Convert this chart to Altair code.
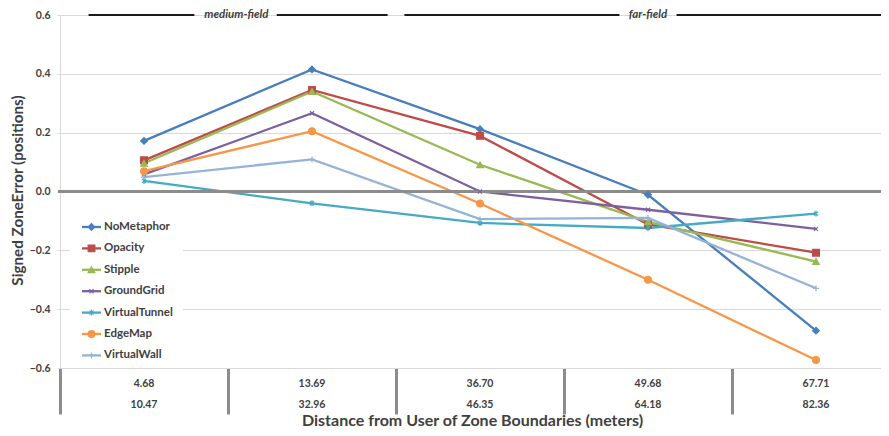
import altair as alt
import pandas as pd

# ---- data ----
near_bounds = ["4.68", "13.69", "36.70", "49.68", "67.71"]
far_bounds = ["10.47", "32.96", "46.35", "64.18", "82.36"]
series_names = ["NoMetaphor", "Opacity", "Stipple", "GroundGrid",
                "VirtualTunnel", "EdgeMap", "VirtualWall"]
no_metaphor = [0.172, 0.415, 0.212, -0.011, -0.473]
opacity = [0.106, 0.345, 0.189, -0.112, -0.208]
stipple = [0.096, 0.340, 0.091, -0.103, -0.238]
ground_grid = [0.058, 0.266, 0.000, -0.062, -0.127]
virtual_tunnel = [0.036, -0.040, -0.107, -0.124, -0.075]
edge_map = [0.069, 0.205, -0.041, -0.300, -0.573]
virtual_wall = [0.049, 0.109, -0.094, -0.090, -0.329]

# field annotations (segments in category-band units)
field_labels = ["medium-field", "far-field"]
field_label_pos = [1.05, 3.5]
seg_start = [0.17, 1.29, 2.05, 3.67]
seg_end = [0.80, 1.95, 3.33, 4.89]

colors = ["#4A7EBB", "#BE4B48", "#98B954", "#7D60A0", "#46AAC5", "#F79646", "#95B3D7"]
shapes = ["diamond", "square", "triangle-up",
          "M-0.6,-0.6L0.6,0.6M-0.6,0.6L0.6,-0.6",
          "M-0.6,-0.6L0.6,0.6M-0.6,0.6L0.6,-0.6M0,-0.9L0,0.9",
          "circle",
          "M-0.9,0L0.9,0M0,-0.9L0,0.9"]
sizes = [45, 45, 45, 35, 35, 50, 35]

FONT = "Lato"
GRAY_TXT = "#404040"

all_vals = [no_metaphor, opacity, stipple, ground_grid, virtual_tunnel, edge_map, virtual_wall]
rows = []
for si, (name, vals) in enumerate(zip(series_names, all_vals)):
    for ci, v in enumerate(vals):
        rows.append({"series": name, "order": si, "pos": ci + 0.5, "value": v})
df = pd.DataFrame(rows)

cat_df = pd.DataFrame({"pos": [i + 0.5 for i in range(5)], "near": near_bounds, "far": far_bounds})

PLOT_W, PLOT_H = 821, 353
BAND = 168
xdom = [0, PLOT_W / BAND]

xscale = alt.Scale(domain=xdom, nice=False, zero=False)
yscale = alt.Scale(domain=[-0.6, 0.6], nice=False)
cscale = alt.Scale(domain=series_names, range=colors)
shscale = alt.Scale(domain=series_names, range=shapes)
szscale = alt.Scale(domain=series_names, range=sizes)

x_enc = alt.X("pos:Q", scale=xscale,
              axis=alt.Axis(values=[0, 1, 2, 3, 4], labels=False, grid=False,
                            tickSize=46, tickWidth=3, tickColor="#8c8c8c",
                            domainColor="#d9d9d9", domainWidth=1,
                            title="Distance from User of Zone Boundaries (meters)",
                            titleFont=FONT, titleFontSize=16, titleFontWeight="bold",
                            titleColor=GRAY_TXT, titleX=412, titleY=57,
                            titleBaseline="alphabetic", titleAlign="center"))
y_enc = alt.Y("value:Q", scale=yscale,
              axis=alt.Axis(values=[-0.6, -0.4, -0.2, 0.0, 0.2, 0.4, 0.6], format=".1f",
                            grid=True, gridColor="#d9d9d9", gridWidth=1,
                            domainColor="#d9d9d9", tickColor="#d9d9d9", tickSize=3,
                            labelFont=FONT, labelFontSize=10.5, labelFontWeight="bold",
                            labelColor=GRAY_TXT, labelPadding=7,
                            title="Signed ZoneError (positions)",
                            titleFont=FONT, titleFontSize=15.2, titleFontWeight="bold",
                            titleColor=GRAY_TXT, titleAngle=270, titleX=-43, titleY=175,
                            titleBaseline="middle", titleAlign="center"))

base = alt.Chart(df)

# white box behind legend (hides gridlines)
legend_box = alt.Chart(pd.DataFrame({"a": [0]})).mark_rect(color="white").encode(
    x=alt.value(10), x2=alt.value(123), y=alt.value(200), y2=alt.value(351))

zero_line = alt.Chart(pd.DataFrame({"v": [0.0]})).mark_rule(color="#8c8c8c", strokeWidth=3).encode(
    y=alt.Y("v:Q", scale=yscale), x=alt.value(-2), x2=alt.value(PLOT_W))

lines = base.mark_line(strokeWidth=2.3).encode(
    x=x_enc, y=y_enc,
    color=alt.Color("series:N", scale=cscale, legend=None),
    detail="series:N",
    order=alt.Order("pos:Q"))

points = base.mark_point(filled=True, opacity=1, strokeWidth=1.2).encode(
    x=alt.X("pos:Q", scale=xscale),
    y=alt.Y("value:Q", scale=yscale),
    fill=alt.Fill("series:N", scale=cscale, legend=None),
    stroke=alt.Stroke("series:N", scale=cscale, legend=None),
    shape=alt.Shape("series:N", scale=shscale, legend=None),
    size=alt.Size("series:N", scale=szscale, legend=None))

# category labels below the plot
near_text = alt.Chart(cat_df).mark_text(font=FONT, fontSize=10.5, fontWeight="bold",
                                        color=GRAY_TXT, baseline="middle").encode(
    x=alt.X("pos:Q", scale=xscale), y=alt.value(369), text="near:N")
far_text = alt.Chart(cat_df).mark_text(font=FONT, fontSize=10.5, fontWeight="bold",
                                       color=GRAY_TXT, baseline="middle").encode(
    x=alt.X("pos:Q", scale=xscale), y=alt.value(390), text="far:N")

# field annotations
seg_df = pd.DataFrame({"s": seg_start, "e": seg_end, "v": [0.6] * len(seg_start)})
segs = alt.Chart(seg_df).mark_rule(color="#1a1a1a", strokeWidth=2).encode(
    x=alt.X("s:Q", scale=xscale), x2="e:Q", y=alt.Y("v:Q", scale=yscale))
field_df = pd.DataFrame({"label": field_labels, "pos": field_label_pos, "v": [0.6, 0.6]})
field_text = alt.Chart(field_df).mark_text(font=FONT, fontSize=11.5, fontWeight="bold",
                                           fontStyle="italic", color=GRAY_TXT,
                                           baseline="middle").encode(
    x=alt.X("pos:Q", scale=xscale), y=alt.Y("v:Q", scale=yscale), text="label:N")

# manual legend (line + marker + label)
leg_df = pd.DataFrame({
    "series": series_names,
    "ly": [212 + 21.4 * i for i in range(len(series_names))],
    "lx0": [22] * 7, "lx1": [41] * 7, "lxm": [31.5] * 7, "lxt": [44] * 7,
})
leg_lines = alt.Chart(leg_df).mark_rule(strokeWidth=2.3).encode(
    x=alt.X("lx0:Q", scale=None), x2="lx1:Q", y=alt.Y("ly:Q", scale=None),
    color=alt.Color("series:N", scale=cscale, legend=None))
leg_pts = alt.Chart(leg_df).mark_point(filled=True, opacity=1, strokeWidth=1.2).encode(
    x=alt.X("lxm:Q", scale=None), y=alt.Y("ly:Q", scale=None),
    fill=alt.Fill("series:N", scale=cscale, legend=None),
    stroke=alt.Stroke("series:N", scale=cscale, legend=None),
    shape=alt.Shape("series:N", scale=shscale, legend=None),
    size=alt.Size("series:N", scale=szscale, legend=None))
leg_text = alt.Chart(leg_df).mark_text(font=FONT, fontSize=11.5, fontWeight="bold",
                                       color=GRAY_TXT, align="left", baseline="middle").encode(
    x=alt.X("lxt:Q", scale=None), y=alt.Y("ly:Q", scale=None), text="series:N")

chart = alt.layer(
    lines, legend_box, zero_line, points, near_text, far_text, segs, field_text,
    leg_lines, leg_pts, leg_text
).resolve_scale(x="shared", y="shared").properties(
    width=PLOT_W, height=PLOT_H,
    autosize=alt.AutoSizeParams(type="none"),
    padding={"left": 52, "top": 7, "right": 0, "bottom": 60},
).configure_view(stroke=None).configure(background="white")

chart.save("out.html", embed_options={"renderer": "svg", "actions": False})
